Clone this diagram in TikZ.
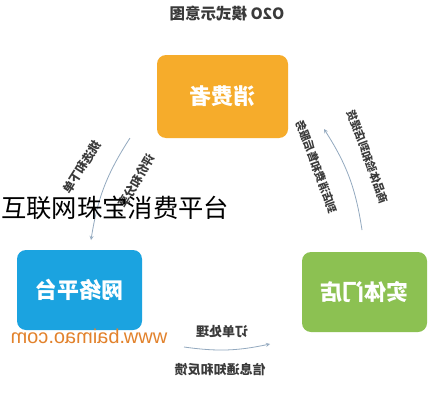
\documentclass[tikz,border=0pt]{standalone}
\usepackage{fontspec}
\usepackage{xcolor}
\setmainfont{Liberation Sans}
\newfontfamily\cjk{Noto Sans CJK SC}
\usetikzlibrary{arrows,calc}

\definecolor{consumerorange}{HTML}{F6AC2B}
\definecolor{webblue}{HTML}{1BA3E0}
\definecolor{shopgreen}{HTML}{8CC152}
\definecolor{urlorange}{HTML}{E2822C}
\definecolor{arcgray}{HTML}{93A9BF}
\definecolor{labelgray}{HTML}{3A3A3A}

\tikzset{
  flipped/.style={xscale=-1},
  rolebox/.style={rounded corners=9pt, minimum width=125pt, minimum height=80pt, inner sep=0pt},
  roletext/.style={flipped, text=white, font=\cjk\bfseries\fontsize{22}{22}\selectfont},
  arclabel/.style={text=labelgray, font=\cjk\bfseries\fontsize{12}{12}\selectfont, inner sep=1pt},
  flowarc/.style={draw=arcgray, line width=0.8pt, >=stealth}
}

\begin{document}
\begin{tikzpicture}[x=1pt, y=1pt]
    % Frame of the picture
    \useasboundingbox (0,0) rectangle (444,400);
    \fill[white] (0,0) rectangle (444,400);

    % Title
    \node[flipped, text=labelgray, font=\cjk\bfseries\fontsize{15.5}{15.5}\selectfont] (title) at (227,386) {O2O 模式示意图};

    % Three roles
    \node[rolebox, fill=consumerorange, minimum width=131pt, minimum height=83pt] (consumer) at (222.5,303.5) {};
    \node[roletext] at (consumer) {消费者};
    \node[rolebox, fill=webblue] (web) at (79.5,110) {};
    \node[roletext] at (web) {网络平台};
    \node[rolebox, fill=shopgreen] (shop) at (364.5,108) {};
    \node[roletext] at (shop) {实体门店};

    % Arc ends
    \coordinate (leftTop) at (130,262);
    \coordinate (leftBot) at (91,160);
    \coordinate (rightBot) at (362,170);
    \coordinate (rightTop) at (324,271);
    \coordinate (bottomL) at (184,53);
    \coordinate (bottomR) at (270,56);

    % Connectors
    \draw[flowarc, ->] (leftTop) to[bend right=12] (leftBot);
    \draw[flowarc, ->] (rightBot) to[bend right=12] (rightTop);
    \draw[flowarc, ->] (bottomL) to[bend right=10] (bottomR);

    % Arc labels
    \node[arclabel, rotate=57.5, flipped] (pickLbl) at (82,233) {挑选和下单};
    \node[arclabel, rotate=60, flipped] (shareLbl) at (137,219) {评价和分享};
    \node[arclabel, rotate=-70, flipped, font=\cjk\bfseries\fontsize{11}{11}\selectfont] (tryLbl) at (368,243) {商品体验和到店提货};
    \node[arclabel, rotate=-70, flipped, font=\cjk\bfseries\fontsize{11}{11}\selectfont] (serveLbl) at (317,233) {到店消费和售后服务};
    \node[arclabel, flipped, font=\cjk\bfseries\fontsize{13}{13}\selectfont] (orderLbl) at (222,68) {订单处理};
    \node[arclabel, flipped, font=\cjk\bfseries\fontsize{13}{13}\selectfont] (noticeLbl) at (220,30) {信息通知和反馈};

    % Site address
    \node[flipped, text=urlorange, font=\fontsize{20}{20}\selectfont, inner sep=0pt] (url) at (89,64) {www.baimao.com};

    % Overlay caption
    \node[anchor=west, text=black, font=\cjk\fontsize{25.3}{25.3}\selectfont, inner sep=0pt] (caption) at (1,192) {互联网珠宝消费平台};
\end{tikzpicture}
\end{document}
